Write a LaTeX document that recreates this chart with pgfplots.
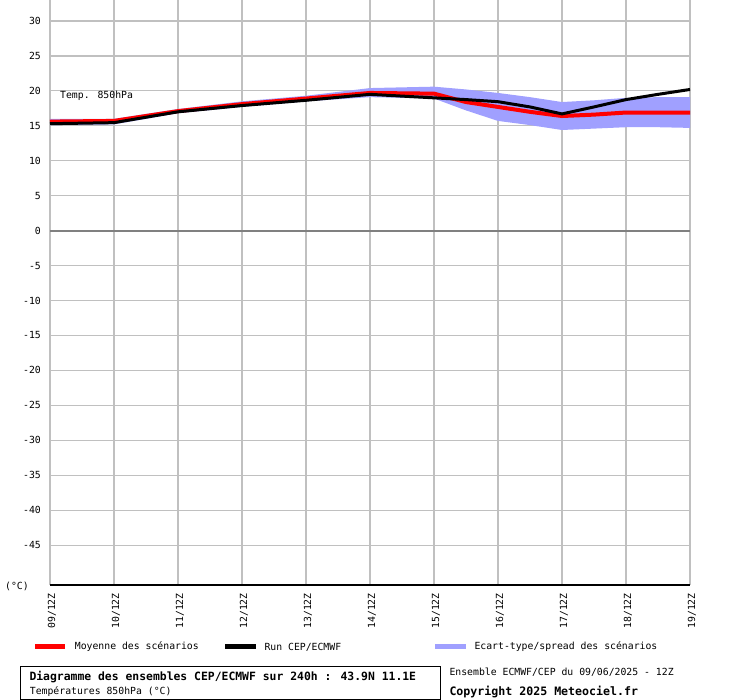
\documentclass[border=0pt]{standalone}
\usepackage{pgfplots}
\pgfplotsset{compat=1.18}
\usepackage{fontspec}
\setmainfont{DejaVu Sans Mono}
\definecolor{gridgray}{RGB}{192,192,192}
\definecolor{zerogray}{RGB}{128,128,128}
\definecolor{spread}{RGB}{160,160,255}
\newcommand\rf{\fontsize{9.8bp}{11bp}\selectfont}
\newcommand\bfa{\fontsize{11.4bp}{13bp}\selectfont\bfseries}
\begin{document}
\begin{tikzpicture}
\useasboundingbox (0,0) rectangle (740bp,700bp);
\begin{axis}[at={(50bp,115bp)}, anchor=south west, scale only axis,
  width=640bp, height=585bp, xmin=9, xmax=19, ymin=-50.7, ymax=33,
  axis line style={draw=none}, major tick length=0pt,
  xtick={9,10,11,12,13,14,15,16,17,18,19},
  xticklabels={09/12Z,10/12Z,11/12Z,12/12Z,13/12Z,14/12Z,15/12Z,16/12Z,17/12Z,18/12Z,19/12Z},
  ytick={-45,-40,-35,-30,-25,-20,-15,-10,-5,0,5,10,15,20,25,30},
  yticklabels={-45,-40,-35,-30,-25,-20,-15,-10,-5,0,5,10,15,20,25,30},
  grid=major, grid style={gridgray, line width=1.2bp},
  xticklabel shift=8bp,
  xticklabel style={font=\rf, inner sep=0pt, xshift=2bp, rotate=90, anchor=east},
  yticklabel style={font=\rf, inner sep=0pt, xshift=-9bp},
  clip=false]
\addplot[zerogray, line width=2bp] coordinates {(9,0)(19,0)};
\addplot[black, line width=1.2bp] coordinates {(9,-50.7)(19,-50.7)};
\addplot[fill=spread, draw=none] coordinates {
 (9,16.0)(10,16.0)(11,17.4)(12,18.5)(13,19.3)(14,20.4)(15,20.6)(15.5,20.2)(16,19.7)(16.5,19.1)(17,18.4)(17.5,18.65)(18,19.0)(18.5,19.1)(19,19.1)
 (19,14.7)(18.5,14.8)(18,14.8)(17.5,14.6)(17,14.4)(16.5,15.1)(16,15.7)(15.5,17.2)(15,18.9)(14,19.1)(13,18.5)(12,17.7)(11,16.8)(10,15.2)(9,15.1)} -- cycle;
\addplot[red, line width=4bp] coordinates {
 (9,15.6)(10,15.7)(11,17.1)(12,18.1)(13,18.9)(14,19.7)(15,19.6)(15.5,18.4)(16,17.7)(16.5,17.0)(17,16.4)(17.5,16.6)(18,16.9)(19,16.9)};
\addplot[black, line width=3bp] coordinates {
 (9,15.3)(10,15.45)(11,17.0)(12,17.9)(13,18.65)(14,19.5)(15,19.0)(15.5,18.75)(16,18.45)(16.5,17.7)(17,16.7)(17.5,17.7)(18,18.75)(18.5,19.5)(19,20.2)};
\end{axis}
% texts
\node[anchor=west, inner sep=0pt, font=\rf] at (60bp,604bp) {Temp. 850hPa};
\node[anchor=west, inner sep=0pt, font=\rf] at (5bp,113.3bp) {(°C)};
% legend
\draw[red, line width=5bp] (35bp,53bp) -- (65bp,53bp);
\node[anchor=west, inner sep=0pt, font=\rf] at (74.7bp,53bp) {Moyenne des scénarios};
\draw[black, line width=5bp] (225bp,53bp) -- (256bp,53bp);
\node[anchor=west, inner sep=0pt, font=\rf] at (264.3bp,53bp) {Run CEP/ECMWF};
\draw[spread, line width=5bp] (435bp,53bp) -- (466bp,53bp);
\node[anchor=west, inner sep=0pt, font=\rf] at (474.3bp,53bp) {Ecart-type/spread des scénarios};
% bottom box
\draw[black, line width=1bp] (20.3bp,0.7bp) rectangle (440.3bp,33bp);
\node[anchor=west, inner sep=0pt, font=\bfa] at (29.3bp,23.3bp) {Diagramme des ensembles CEP/ECMWF sur 240h : 43.9N 11.1E};
\node[anchor=west, inner sep=0pt, font=\rf] at (29.7bp,8bp) {Températures 850hPa (°C)};
\node[anchor=west, inner sep=0pt, font=\rf] at (449.3bp,27.7bp) {Ensemble ECMWF/CEP du 09/06/2025 - 12Z};
\node[anchor=west, inner sep=0pt, font=\fontsize{11.6bp}{13bp}\selectfont\bfseries] at (449.3bp,7.7bp) {Copyright 2025 Meteociel.fr};
\end{tikzpicture}
\end{document}
